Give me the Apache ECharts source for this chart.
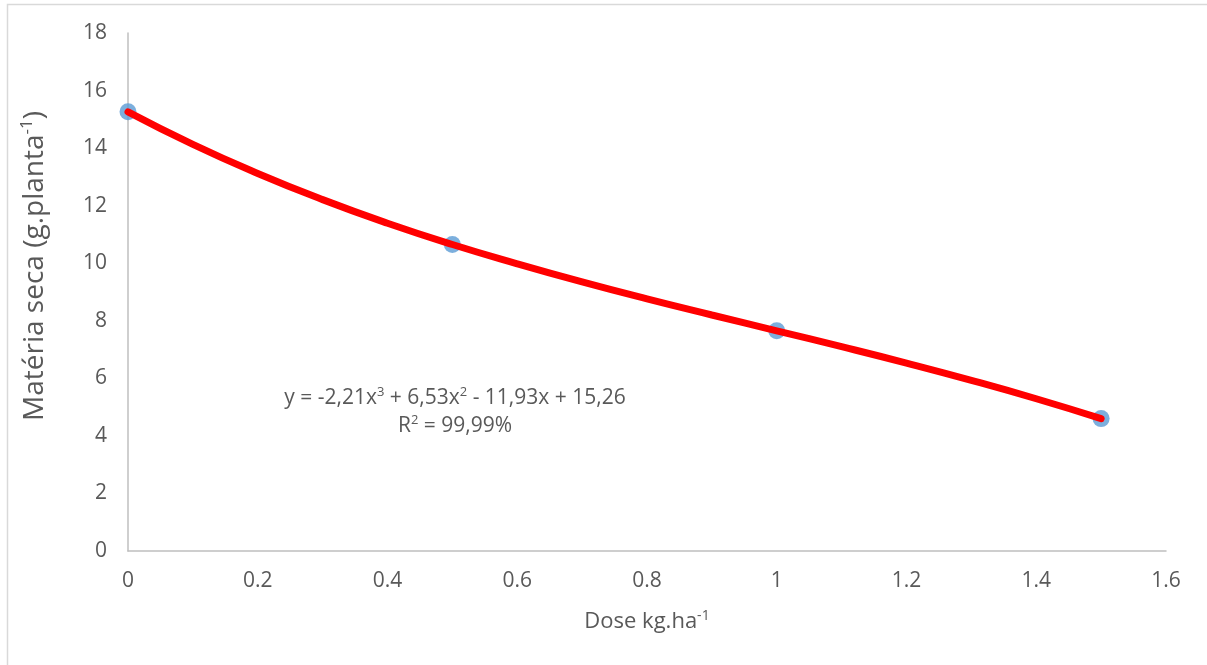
<!DOCTYPE html>
<html>
<head>
<meta charset="utf-8">
<script src="https://cdn.jsdelivr.net/npm/echarts@6/dist/echarts.min.js"></script>
<style>html,body{margin:0;padding:0;background:#fff}#c{width:1207px;height:665px}</style>
</head>
<body>
<div id="c"></div>
<script>
// Observed data points
var doses = [0, 0.5, 1, 1.5];
var drymatter = [15.26, 10.65, 7.65, 4.60];
// Trend curve, values
var curveX = [0, 0.1, 0.2, 0.3, 0.4, 0.5, 0.6, 0.7, 0.8, 0.9, 1.0, 1.1, 1.2, 1.3, 1.4, 1.5];
var curveY = [15.26, 14.13, 13.12, 12.21, 11.39, 10.65, 9.98, 9.35, 8.76, 8.20, 7.65, 7.10, 6.53, 5.93, 5.29, 4.60];
var xTitleMain = 'Dose kg.ha';
var yTitleMain = 'Matéria seca (g.planta';
var titleSup = '-1';

var FONT = 'Open Sans';
var GREY = '#595959';
function supRich(size, supSize) {
  return {
    m: {fontSize: size, fontFamily: FONT, color: GREY, fill: GREY, lineHeight: size + 4},
    s: {fontSize: supSize, fontFamily: FONT, color: GREY, fill: GREY, verticalAlign: 'top', lineHeight: size + 4}
  };
}
var chart = echarts.init(document.getElementById('c'));
chart.setOption({
  animation: false,
  backgroundColor: '#fff',
  grid: {left: 128, right: 41, top: 33, bottom: 114},
  xAxis: {
    type: 'value', min: 0, max: 1.6, interval: 0.2,
    name: '{m|' + xTitleMain + '}{s|' + titleSup + '}', nameLocation: 'middle', nameGap: 58,
    nameTextStyle: {color: GREY, fontSize: 22, fontFamily: FONT, rich: supRich(22, 14)},
    axisLine: {show: true, lineStyle: {color: '#bfbfbf', width: 1.5}},
    axisTick: {show: false},
    splitLine: {show: false},
    axisLabel: {color: GREY, fontSize: 21, fontFamily: FONT, margin: 20}
  },
  yAxis: {
    type: 'value', min: 0, max: 18, interval: 2,
    axisLine: {show: true, lineStyle: {color: '#bfbfbf', width: 1.5}},
    axisTick: {show: false},
    splitLine: {show: false},
    axisLabel: {color: GREY, fontSize: 21, fontFamily: FONT, margin: 21}
  },
  series: [
    {
      type: 'scatter', z: 2,
      data: doses.map(function(d, i){ return [d, drymatter[i]]; }),
      symbolSize: 17,
      itemStyle: {color: '#5b9bd5'}
    },
    {
      type: 'line', z: 3, smooth: true, showSymbol: false, symbol: 'none',
      data: curveX.map(function(d, i){ return [d, curveY[i]]; }),
      lineStyle: {color: '#ff0000', width: 7, cap: 'round'}
    }
  ],
  graphic: [
    {type: 'rect', shape: {x: 7.5, y: 4.5, width: 1240, height: 700},
     style: {fill: 'none', stroke: '#d9d9d9', lineWidth: 1.5}, silent: true},
    {type: 'text', x: 35, y: 266, rotation: Math.PI / 2,
     style: {text: '{m|' + yTitleMain + '}{s|' + titleSup + '}{m|)}', rich: supRich(28, 17), fill: GREY,
             align: 'center', verticalAlign: 'middle'}},
    {type: 'text', x: 455, y: 398,
     style: {text: '{m|y = -2,21x}{s|3}{m| + 6,53x}{s|2}{m| - 11,93x + 15,26}', rich: supRich(21, 13), fill: GREY,
             align: 'center', verticalAlign: 'middle'}},
    {type: 'text', x: 455, y: 426,
     style: {text: '{m|R}{s|2}{m| = 99,99%}', rich: supRich(21, 13), fill: GREY,
             align: 'center', verticalAlign: 'middle'}}
  ]
});
</script>
</body>
</html>
